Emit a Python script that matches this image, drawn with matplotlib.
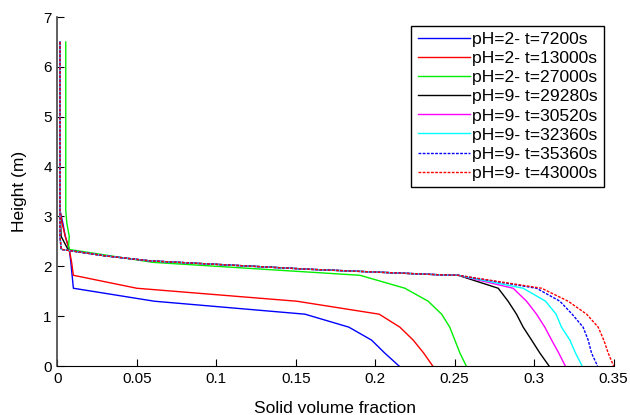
import matplotlib
matplotlib.use("Agg")
import matplotlib.pyplot as plt

plt.rcParams['font.family'] = ['Liberation Sans', 'DejaVu Sans']

# node heights (m) used by the profiles, from the column top down to the bottom
H_PH2 = [6.5, 3.12, 2.86, 2.6, 2.34, 2.08, 1.82, 1.56, 1.30, 1.04, 0.78, 0.52, 0.26, 0.0]
H_TAIL = [1.56, 1.30, 1.04, 0.78, 0.52, 0.26, 0.0]

# pH=2 profiles (solid volume fraction at each height in H_PH2)
X_7200 = [0.0017, 0.0017, 0.0035, 0.005, 0.0075, 0.0085, 0.0093, 0.0101,
          0.061, 0.1558, 0.1834, 0.1977, 0.206, 0.215]
X_13000 = [0.0017, 0.0017, 0.003, 0.005, 0.0075, 0.009, 0.0101, 0.05,
           0.1506, 0.2025, 0.2155, 0.2239, 0.2305, 0.2362]
X_27000 = [0.0053, 0.0053, 0.006, 0.0075, 0.007, 0.06, 0.1904, 0.2187,
           0.2333, 0.2418, 0.2469, 0.2501, 0.2533, 0.2573]

# pH=9: shared upper part (clear zone + sludge blanket front)
TOP_H = [6.5, 2.6, 2.34]
TOP_X = [0.0017, 0.0017, 0.0024]
BLACK_TOP_H = [6.5, 3.12, 2.6, 2.32]
BLACK_TOP_X = [0.0017, 0.0017, 0.0024, 0.007]
COMMON_H = [2.21, 2.11, 1.94, 1.83, 1.82]
COMMON_X = [0.03, 0.058, 0.159, 0.2407, 0.2522]

# pH=9 lower parts at heights H_TAIL
X_29280 = [0.2774, 0.2836, 0.2889, 0.2931, 0.2984, 0.3036, 0.3094]
X_30520 = [0.2868, 0.2952, 0.3015, 0.3067, 0.311, 0.3155, 0.3196]
X_32360 = [0.2931, 0.3072, 0.3138, 0.3172, 0.3225, 0.326, 0.3302]
X_35360 = [0.3015, 0.3162, 0.3239, 0.3308, 0.334, 0.3361, 0.3399]
X_43000 = [0.3047, 0.3214, 0.333, 0.3403, 0.3438, 0.3466, 0.35]

LABELS = ["pH=2- t=7200s", "pH=2- t=13000s", "pH=2- t=27000s",
          "pH=9- t=29280s", "pH=9- t=30520s", "pH=9- t=32360s",
          "pH=9- t=35360s", "pH=9- t=43000s"]

XTICKS = [0, 0.05, 0.1, 0.15, 0.2, 0.25, 0.3, 0.35]
XTICKLABELS = ["0", "0.05", "0.1", "0.15", "0.2", "0.25", "0.3", "0.35"]
YTICKS = [0, 1, 2, 3, 4, 5, 6, 7]

dash = (0, (2.0, 1.0))
series = [
    (X_7200, H_PH2, '#0000ff', '-'),
    (X_13000, H_PH2, '#ff0000', '-'),
    (X_27000, H_PH2, '#00ee00', '-'),
    (BLACK_TOP_X + COMMON_X + X_29280, BLACK_TOP_H + COMMON_H + H_TAIL, 'black', '-'),
    (TOP_X + COMMON_X + X_30520, TOP_H + COMMON_H + H_TAIL, '#ff00ff', '-'),
    (TOP_X + COMMON_X + X_32360, TOP_H + COMMON_H + H_TAIL, '#00ffff', '-'),
    (TOP_X + COMMON_X + X_35360, TOP_H + COMMON_H + H_TAIL, '#0000ff', dash),
    (TOP_X + COMMON_X + X_43000, TOP_H + COMMON_H + H_TAIL, '#ff0000', dash),
]

fig = plt.figure(figsize=(6.3, 4.15), dpi=100)
ax = fig.add_axes([0.091, 0.118, 0.883, 0.841])

for (xs, hs, col, ls), lab in zip(series, LABELS):
    ax.plot(xs, hs, color=col, linestyle=ls, linewidth=1.0, label=lab)

ax.set_xlim(0, 0.35)
ax.set_ylim(0, 7)
ax.set_xticks(XTICKS)
ax.set_xticklabels(XTICKLABELS)
ax.set_yticks(YTICKS)
ax.tick_params(direction='in', length=5, labelsize=11, pad=4)
ax.spines['top'].set_visible(False)
ax.spines['right'].set_visible(False)
ax.spines['left'].set_color('#444444')
ax.spines['left'].set_linewidth(1.2)
ax.spines['bottom'].set_color('black')

ax.set_xlabel("Solid volume fraction", fontsize=12.5, labelpad=11)
ax.set_ylabel("Height (m)", fontsize=12.5, labelpad=12)

leg = ax.legend(loc='upper right', bbox_to_anchor=(0.982, 0.975), borderaxespad=0,
                fontsize=12.6, handlelength=3.0, handletextpad=0.1,
                labelspacing=0.22, borderpad=0.35, fancybox=False, framealpha=1)
leg.get_frame().set_edgecolor('black')
leg.get_frame().set_linewidth(1.0)

fig.savefig("out.png", dpi=100)
